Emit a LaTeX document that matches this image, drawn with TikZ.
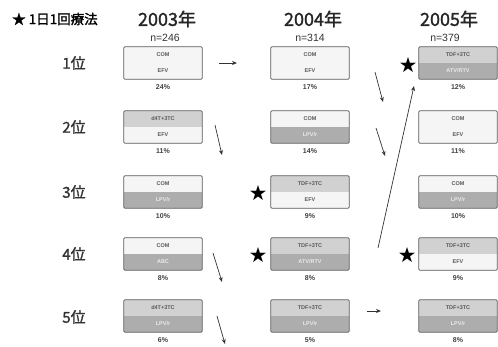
\documentclass[tikz,border=0pt]{standalone}
\usepackage{fontspec}
\setmainfont{Liberation Sans}
\newfontfamily\jp{Noto Sans CJK JP}
\newfontfamily\jpb{Noto Sans CJK JP}[FakeBold=1.5]
\usetikzlibrary{arrows.meta}
\newcommand\regbox[8]{%
  \node[half,#5] (#1t) at (#2,#3-8) {#4};
  \node[half,#7] (#1b) at (#2,#3+8) {#6};
  \draw[boxline] (#1t.north west) rectangle (#1b.south east);
  \node[pct] (#1p) at (#2,#3+24) {#8};
}
\begin{document}
\begin{tikzpicture}[x=1pt,y=-1pt,
  half/.style={minimum width=78pt, minimum height=16pt, inner sep=0pt,
    font=\bfseries\fontsize{5.5}{5.5}\selectfont, text=black!65, draw=none},
  light/.style={fill=gray!8},
  mid/.style={fill=gray!36},
  dark/.style={fill=gray!64, text=white!92!black},
  boxline/.style={draw=black!65, line width=0.8pt, rounded corners=1pt},
  pct/.style={font=\bfseries\fontsize{7}{7}\selectfont, text=black!75},
  arr/.style={-{Stealth[length=5pt,width=4pt]}, line width=0.7pt, draw=black!80},
  star/.style={font=\jp\fontsize{17}{17}\selectfont, inner sep=0pt},
  year/.style={font=\jpb\fontsize{18}{18}\selectfont, text=black!85},
  nlab/.style={font=\fontsize{10.5}{10.5}\selectfont, text=black!80},
  rank/.style={font=\jpb\fontsize{15}{15}\selectfont, text=black!80},
]
\useasboundingbox (0,0) rectangle (498,346);
% header
\node[font=\jpb\fontsize{13.5}{13.5}\selectfont, anchor=west, inner sep=0pt] (title) at (12,19) {★ 1日1回療法};
\node[year] (y3) at (167,19) {2003年};
\node[year] (y4) at (313,19) {2004年};
\node[year] (y5) at (449,19) {2005年};
\node[nlab] (n3) at (165,38) {n=246};
\node[nlab] (n4) at (310,38) {n=314};
\node[nlab] (n5) at (445,38) {n=379};
% ranks
\node[rank] (r1) at (74,63) {1位};
\node[rank] (r2) at (74,127) {2位};
\node[rank] (r3) at (74,192) {3位};
\node[rank] (r4) at (74,254) {4位};
\node[rank] (r5) at (74,317) {5位};
% 2003
\regbox{a1}{163}{63}{COM}{light}{EFV}{light}{24\%}
\regbox{a2}{163}{127}{d4T+3TC}{mid}{EFV}{light}{11\%}
\regbox{a3}{163}{192}{COM}{light}{LPV/r}{dark}{10\%}
\regbox{a4}{163}{254}{COM}{light}{ABC}{dark}{8\%}
\regbox{a5}{163}{316}{d4T+3TC}{mid}{LPV/r}{dark}{6\%}
% 2004
\regbox{b1}{310}{63}{COM}{light}{EFV}{light}{17\%}
\regbox{b2}{310}{127}{COM}{light}{LPV/r}{dark}{14\%}
\regbox{b3}{310}{192}{TDF+3TC}{mid}{EFV}{light}{9\%}
\regbox{b4}{310}{254}{TDF+3TC}{mid}{ATV/RTV}{dark}{8\%}
\regbox{b5}{310}{316}{TDF+3TC}{mid}{LPV/r}{dark}{5\%}
% 2005
\regbox{c1}{458}{63}{TDF+3TC}{mid}{ATV/RTV}{dark}{12\%}
\regbox{c2}{458}{127}{COM}{light}{EFV}{light}{11\%}
\regbox{c3}{458}{192}{COM}{light}{LPV/r}{dark}{10\%}
\regbox{c4}{458}{254}{TDF+3TC}{mid}{EFV}{light}{9\%}
\regbox{c5}{458}{316}{TDF+3TC}{mid}{LPV/r}{dark}{8\%}
% stars
\node[star] (s1) at (408,65) {★};
\node[star] (s2) at (258,193) {★};
\node[star] (s3) at (258,255) {★};
\node[star] (s4) at (407,255) {★};
% arrow endpoints
\coordinate (p1s) at (219,63);  \coordinate (p1e) at (237,63);
\coordinate (p2s) at (215,125); \coordinate (p2e) at (222,155);
\coordinate (p3s) at (213,253); \coordinate (p3e) at (222,282);
\coordinate (p4s) at (217,316); \coordinate (p4e) at (225,344);
\coordinate (q1s) at (375,72);  \coordinate (q1e) at (383,102);
\coordinate (q2s) at (376,128); \coordinate (q2e) at (385,156);
\coordinate (q3s) at (378,248); \coordinate (q3e) at (414,86);
\coordinate (q4s) at (367,311); \coordinate (q4e) at (381,311);
\foreach \s/\e in {p1s/p1e,p2s/p2e,p3s/p3e,p4s/p4e,q1s/q1e,q2s/q2e,q3s/q3e,q4s/q4e}
  \draw[arr] (\s) -- (\e);
\end{tikzpicture}
\end{document}
